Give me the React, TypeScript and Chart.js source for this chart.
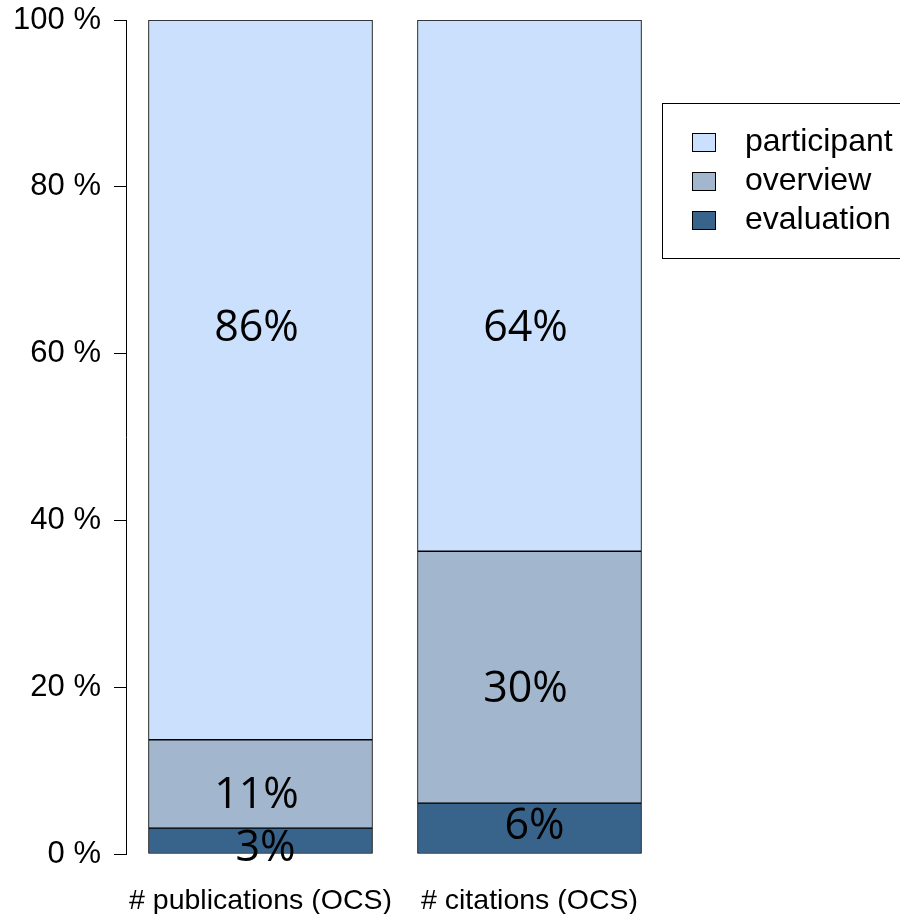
import React, { useEffect, useRef } from "react";
import { Chart, registerables } from "chart.js";

Chart.register(...registerables);

const categories = ["# publications (OCS)", "# citations (OCS)"];
const evaluation = [3.1, 6.1];
const overview = [10.6, 30.2];
const participant = [86.3, 63.7];

const evaluationLabels = ["3%", "6%"];
const overviewLabels = ["11%", "30%"];
const participantLabels = ["86%", "64%"];

// vertical anchor (in % units) of each value label
const evaluationLabelAt = [1.0, 3.6];
const overviewLabelAt = [7.4, 20.1];
const participantLabelAt = [63.3, 63.3];

const yTicks = [0, 20, 40, 60, 80, 100];

const COLORS = {
  participant: "#CBE0FC",
  overview: "#A2B6CD",
  evaluation: "#38648C",
};

const AXIS_FONT = "'Liberation Sans', Arial, Helvetica, sans-serif";
const LABEL_FONT = "'Open Sans', 'Noto Sans', sans-serif";

export default function App() {
  const ref = useRef<HTMLCanvasElement | null>(null);

  useEffect(() => {
    document.body.style.margin = "0";
    const canvas = ref.current;
    if (!canvas) return;

    const labelPlugin = {
      id: "valueLabels",
      afterDatasetsDraw(chart: any) {
        const ctx = chart.ctx;
        const x = chart.scales.x;
        const y = chart.scales.y;
        const groups = [
          { texts: evaluationLabels, at: evaluationLabelAt, dx: 5 },
          { texts: overviewLabels, at: overviewLabelAt, dx: -4 },
          { texts: participantLabels, at: participantLabelAt, dx: -4 },
        ];
        const size = 43;
        ctx.save();
        ctx.font = `${size}px ${LABEL_FONT}`;
        ctx.fillStyle = "#000";
        ctx.textAlign = "center";
        ctx.textBaseline = "alphabetic";
        groups.forEach((g) => {
          g.texts.forEach((t, i) => {
            const px = x.getPixelForValue(i) + g.dx;
            const py = y.getPixelForValue(g.at[i]);
            ctx.fillText(t, px, py + size * 0.357);
          });
        });
        ctx.restore();
      },
    };

    const legendPlugin = {
      id: "boxLegend",
      afterDraw(chart: any) {
        const ctx = chart.ctx;
        ctx.save();
        ctx.strokeStyle = "#000";
        ctx.lineWidth = 1;
        ctx.strokeRect(662.5, 103.5, 260, 155);
        const items = [...chart.data.datasets].reverse();
        const rowY = [142.5, 181.5, 220.5];
        ctx.font = `32px ${AXIS_FONT}`;
        ctx.textAlign = "left";
        ctx.textBaseline = "middle";
        items.forEach((ds: any, i: number) => {
          const cy = rowY[i];
          ctx.fillStyle = ds.backgroundColor;
          ctx.fillRect(692, cy - 9.5, 24, 19);
          ctx.strokeRect(692.5, Math.round(cy - 9.5) + 0.5, 23, 18);
          ctx.fillStyle = "#000";
          ctx.fillText(ds.label, 745, cy);
        });
        ctx.restore();
      },
    };

    const common = {
      borderColor: "#000",
      borderWidth: 1,
      borderSkipped: false,
      barThickness: 224,
    };

    const chart = new Chart(canvas, {
      type: "bar",
      data: {
        labels: categories,
        datasets: [
          { label: "evaluation", data: evaluation, backgroundColor: COLORS.evaluation, ...common },
          { label: "overview", data: overview, backgroundColor: COLORS.overview, ...common },
          { label: "participant", data: participant, backgroundColor: COLORS.participant, ...common },
        ],
      },
      options: {
        responsive: false,
        animation: false,
        layout: { padding: { top: 20, right: 236, bottom: 0, left: 0 } },
        plugins: {
          legend: { display: false },
          tooltip: { enabled: false },
        },
        scales: {
          x: {
            stacked: true,
            grid: { display: false, drawTicks: false },
            border: { display: false },
            ticks: {
              color: "#000",
              font: { family: AXIS_FONT, size: 28.5 },
              padding: 30,
              maxRotation: 0,
              autoSkip: false,
            },
            afterFit: (scale: any) => {
              scale.height = 60;
            },
          },
          y: {
            stacked: true,
            min: 0,
            max: 100,
            afterBuildTicks: (scale: any) => {
              scale.ticks = yTicks.map((v) => ({ value: v }));
            },
            grid: {
              display: true,
              drawOnChartArea: false,
              drawTicks: true,
              tickLength: 12,
              color: "#000",
            },
            border: { display: true, color: "#000", width: 1 },
            ticks: {
              color: "#000",
              font: { family: AXIS_FONT, size: 31 },
              padding: 13,
              callback: (v: any) => `${v} %`,
            },
            afterFit: (scale: any) => {
              scale.width = 126;
              scale.paddingTop = 0;
              scale.paddingBottom = 0;
            },
          },
        },
      },
      plugins: [labelPlugin, legendPlugin],
    });

    return () => chart.destroy();
  }, []);

  return (
    <div style={{ width: 900, height: 914 }}>
      <canvas ref={ref} width={900} height={914} style={{ display: "block" }} />
    </div>
  );
}
